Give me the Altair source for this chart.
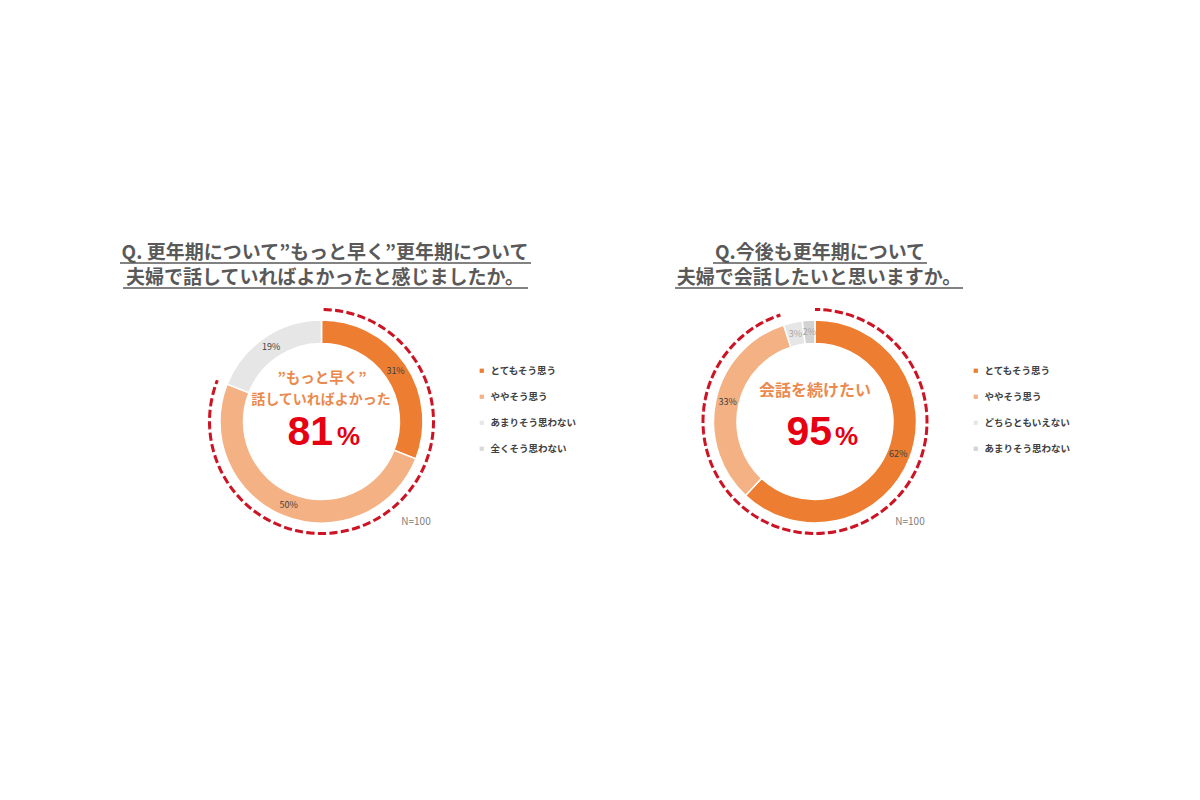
import math
import altair as alt
import pandas as pd

FONT = "Noto Sans CJK JP"
NUM_FONT = "Liberation Sans"
OFF = 8  # page margin

# ---- data ----
cats1 = ["とてもそう思う", "ややそう思う", "あまりそう思わない", "全くそう思わない"]
vals1 = [31, 50, 19, 0]
colors1 = ["#ED7D31", "#F4B183", "#E7E6E6", "#D9D9D9"]

cats2 = ["とてもそう思う", "ややそう思う", "どちらともいえない", "あまりそう思わない"]
vals2 = [62, 33, 3, 2]
colors2 = ["#ED7D31", "#F4B183", "#E7E6E6", "#D3D3D3"]

title1 = ["Q. 更年期について”もっと早く”更年期について", "夫婦で話していればよかったと感じましたか。"]
title2 = ["Q.今後も更年期について", "夫婦で会話したいと思いますか。"]
center1 = ["”もっと早く”", "話していればよかった"]
center2 = ["会話を続けたい"]
n_label = "N=100"

# ---- styles ----
R_OUT, R_IN, R_LBL, R_DASH = 101.5, 78, 89.5, 112
DASH = [7.5, 4]
RED_DASH = "#CC1424"
RED_BIG = "#E60012"
ORANGE_TXT = "#EA8A4F"
TITLE_C = "#595959"


def P(x, y):
    return x - OFF, y - OFF


def txt(text, x, y, size, color, weight="bold", align="center", baseline="middle", font=FONT):
    px, py = P(x, y)
    return alt.Chart(pd.DataFrame({"t": [text]})).mark_text(
        font=font, fontSize=size, fontWeight=weight, color=color,
        align=align, baseline=baseline
    ).encode(text="t:N", x=alt.value(px), y=alt.value(py))


def uline(x1, x2, y):
    a, b = P(x1, y)
    c, _ = P(x2, y)
    return alt.Chart(pd.DataFrame({"k": [0]})).mark_rule(
        color=TITLE_C, strokeWidth=1.5
    ).encode(x=alt.value(a), x2=alt.value(c), y=alt.value(b))


def donut(cats, vals, colors, cx, cy, lx, ly):
    px, py = P(cx, cy)
    df = pd.DataFrame({"cat": cats, "value": vals, "order": list(range(len(cats)))})
    df["label"] = [f"{v}%" for v in vals]
    base = alt.Chart(df).encode(
        theta=alt.Theta("value:Q", stack=True, scale=alt.Scale(domain=[0, 100])),
        order=alt.Order("order:Q"),
        x=alt.value(px), y=alt.value(py),
    )
    lgx, lgy = P(lx, ly)
    arcs = base.mark_arc(
        innerRadius=R_IN, outerRadius=R_OUT, stroke="white", strokeWidth=1.5
    ).encode(
        color=alt.Color(
            "cat:N", sort=cats,
            scale=alt.Scale(domain=cats, range=colors),
            legend=alt.Legend(
                title=None, orient="none", legendX=lgx, legendY=lgy,
                symbolType="square", symbolSize=18, symbolStrokeWidth=0,
                labelFont=FONT, labelFontSize=9.5, labelFontWeight="bold",
                labelColor="#404040", rowPadding=15, padding=0, labelOffset=4,
            ),
        )
    ).transform_filter("datum.value > 0")
    labels = base.mark_text(radius=R_LBL, font=FONT, fontSize=9).encode(
        text="label:N",
        color=alt.condition("datum.value >= 10", alt.value("#404040"), alt.value("#A6A6A6")),
    ).transform_filter("datum.value > 0")

    total = vals[0] + vals[1]
    L = R_DASH * 2 * math.pi * total / 100
    period = DASH[0] + DASH[1]
    doff = (DASH[0] / 2 - L) % period
    dashed = alt.Chart(pd.DataFrame({"start": [0], "end": [total]})).mark_arc(
        outerRadius=R_DASH, innerRadius=R_DASH, fill="white", fillOpacity=0,
        stroke=RED_DASH, strokeWidth=3, strokeDash=DASH, strokeDashOffset=doff,
    ).encode(
        theta=alt.Theta("start:Q", scale=alt.Scale(domain=[0, 100])),
        theta2="end:Q",
        x=alt.value(px), y=alt.value(py),
    )
    return [arcs, labels, dashed], total


layers = []

# ---- left panel ----
L1, tot1 = donut(cats1, vals1, colors1, 321.5, 421.5, 477, 366)
layers += L1
layers += [
    txt(title1[0], 325, 259, 19, TITLE_C, baseline="alphabetic"),
    txt(title1[1], 325, 284, 19, TITLE_C, baseline="alphabetic"),
    uline(120, 531, 263),
    uline(123, 528, 288),
    txt(center1[0], 322, 379, 14.5, ORANGE_TXT),
    txt(center1[1], 321, 399.5, 14, ORANGE_TXT),
    txt(f"{tot1}", 333, 445, 41, RED_BIG, align="right", baseline="alphabetic", font=NUM_FONT),
    txt("%", 337, 445, 26, RED_BIG, align="left", baseline="alphabetic", font=NUM_FONT),
    txt(n_label, 416, 522, 10, "#808080", weight="normal"),
]

# ---- right panel ----
L2, tot2 = donut(cats2, vals2, colors2, 815, 421.5, 971, 366)
layers += L2
layers += [
    txt(title2[0], 820, 259, 19, TITLE_C, baseline="alphabetic"),
    txt(title2[1], 819, 284, 19, TITLE_C, baseline="alphabetic"),
    uline(713, 927, 263),
    uline(675, 963, 288),
    txt(center2[0], 815, 391, 16, ORANGE_TXT),
    txt(f"{tot2}", 832, 445, 41, RED_BIG, align="right", baseline="alphabetic", font=NUM_FONT),
    txt("%", 835, 445, 26, RED_BIG, align="left", baseline="alphabetic", font=NUM_FONT),
    txt(n_label, 910, 522, 10, "#808080", weight="normal"),
]

chart = alt.layer(*layers).resolve_scale(color="independent").properties(
    width=1184, height=784,
    autosize=alt.AutoSizeParams(type="none"),
    padding=0,
    background="white",
).configure_view(strokeWidth=0)

chart.save("out.html", embed_options={"renderer": "svg", "actions": False})
